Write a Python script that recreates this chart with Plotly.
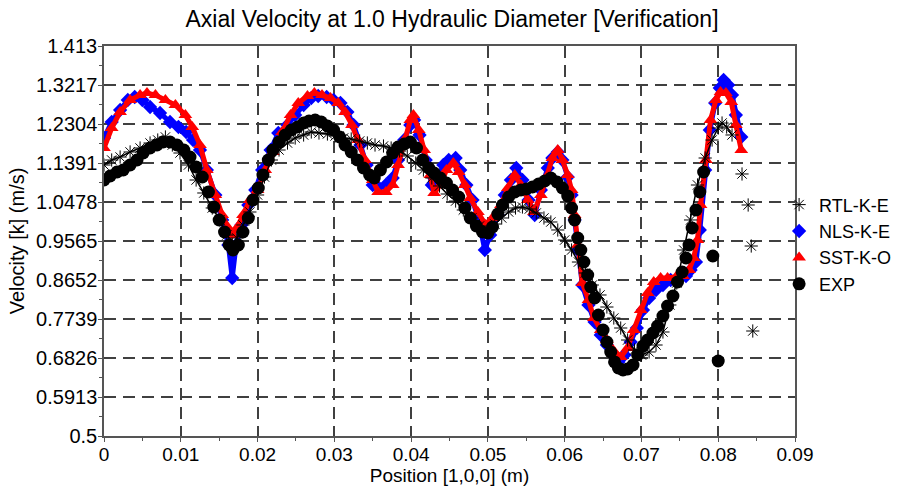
import plotly.graph_objects as go

# ---------------- data ----------------
rtl_x = [0.0000, 0.0010, 0.0021, 0.0034, 0.0047, 0.0060, 0.0070, 0.0080, 0.0089, 0.0099,
         0.0110, 0.0120, 0.0130, 0.0141, 0.0151, 0.0160, 0.0167, 0.0173, 0.0181, 0.0190,
         0.0200, 0.0209, 0.0218, 0.0228, 0.0239, 0.0249, 0.0260, 0.0270, 0.0280, 0.0291,
         0.0301, 0.0312, 0.0322, 0.0333, 0.0343, 0.0353, 0.0364, 0.0374, 0.0385, 0.0395,
         0.0406, 0.0416, 0.0427, 0.0437, 0.0447, 0.0458, 0.0468, 0.0479, 0.0489, 0.0500,
         0.0509, 0.0518, 0.0527, 0.0536, 0.0545, 0.0554, 0.0563, 0.0573, 0.0582, 0.0591,
         0.0600, 0.0609, 0.0618, 0.0627, 0.0636, 0.0646, 0.0655, 0.0664, 0.0673, 0.0682,
         0.0691, 0.0700, 0.0710, 0.0719, 0.0728, 0.0737, 0.0746, 0.0755, 0.0764, 0.0773,
         0.0783, 0.0792, 0.0800, 0.0805, 0.0811, 0.0818,
         0.0831, 0.0839, 0.0843, 0.0845]
rtl_y = [1.1344, 1.1461, 1.1531, 1.1649, 1.1742, 1.1859, 1.1929, 1.2000, 1.1812, 1.1625,
         1.1344, 1.0993, 1.0689, 1.0338, 1.0057, 0.9705, 0.9471, 0.9635, 0.9940, 1.0244,
         1.0642, 1.1063, 1.1461, 1.1695, 1.1859, 1.1976, 1.2047, 1.2117, 1.2093, 1.2070,
         1.2023, 1.1976, 1.1953, 1.1906, 1.1859, 1.1812, 1.1789, 1.1742, 1.1672, 1.1555,
         1.1391, 1.1227, 1.1040, 1.0853, 1.0665, 1.0501, 1.0291, 1.0104, 0.9916, 0.9823,
         0.9963, 1.0104, 1.0244, 1.0338, 1.0361, 1.0314, 1.0221, 1.0104, 1.0010, 0.9823,
         0.9588, 0.9354, 0.9073, 0.8816, 0.8535, 0.8301, 0.8020, 0.7762, 0.7528, 0.7247,
         0.7013, 0.6897, 0.6967, 0.7130, 0.7435, 0.8067, 0.8582, 0.9354, 1.0057, 1.0876,
         1.1508, 1.1929, 1.2210, 1.2327, 1.2234, 1.2047,
         1.1134, 1.0408, 0.9448, 0.7458]
rtl_tail = 4  # last points are isolated (not part of the continuous band)

nls_x = [0.0000, 0.0010, 0.0021, 0.0031, 0.0040, 0.0050, 0.0060, 0.0073, 0.0086, 0.0097,
         0.0107, 0.0116, 0.0125, 0.0134, 0.0145, 0.0154, 0.0162, 0.0167, 0.0172, 0.0179,
         0.0188, 0.0197, 0.0206, 0.0217, 0.0227, 0.0239, 0.0249, 0.0260, 0.0270, 0.0279,
         0.0290, 0.0299, 0.0308, 0.0317, 0.0325, 0.0334, 0.0342, 0.0350, 0.0357, 0.0367,
         0.0376, 0.0383, 0.0391, 0.0399, 0.0404, 0.0411, 0.0419, 0.0427, 0.0434, 0.0442,
         0.0449, 0.0458, 0.0464, 0.0472, 0.0480, 0.0488, 0.0496, 0.0503, 0.0513, 0.0522,
         0.0530, 0.0537, 0.0545, 0.0553, 0.0561, 0.0569, 0.0578, 0.0584, 0.0591, 0.0597,
         0.0604, 0.0609, 0.0613, 0.0617, 0.0623, 0.0631, 0.0639, 0.0647, 0.0655, 0.0663,
         0.0670, 0.0678, 0.0686, 0.0694, 0.0702, 0.0710, 0.0719, 0.0728, 0.0738, 0.0749,
         0.0758, 0.0764, 0.0771, 0.0776, 0.0783, 0.0789, 0.0796, 0.0802, 0.0807, 0.0813,
         0.0818, 0.0823, 0.0830]
nls_y = [1.1976, 1.2351, 1.2632, 1.2866, 1.2936, 1.2866, 1.2702, 1.2561, 1.2351, 1.2234,
         1.2117, 1.1929, 1.1695, 1.1227, 1.0642, 1.0057, 0.9471, 0.8699, 0.9471, 0.9940,
         1.0408, 1.0759, 1.1227, 1.1695, 1.2093, 1.2281, 1.2515, 1.2749, 1.2913, 1.2959,
         1.2936, 1.2866, 1.2796, 1.2585, 1.2281, 1.1812, 1.1344, 1.0876, 1.0829, 1.0876,
         1.1040, 1.1461, 1.1929, 1.2281, 1.2398, 1.2047, 1.1461, 1.0876, 1.0993, 1.1344,
         1.1461, 1.1508, 1.1227, 1.0876, 1.0525, 1.0057, 0.9354, 0.9705, 1.0174, 1.0642,
         1.0993, 1.1274, 1.0993, 1.0525, 1.0174, 1.0759, 1.1274, 1.1508, 1.1649, 1.1461,
         1.1063, 1.0642, 1.0057, 0.9354, 0.8535, 0.8067, 0.7669, 0.7364, 0.7130, 0.6897,
         0.6733, 0.6897, 0.7200, 0.7528, 0.7950, 0.8231, 0.8418, 0.8535, 0.8652, 0.8722,
         0.8746, 0.8886, 0.9073, 0.9823, 1.1227, 1.2164, 1.2796, 1.3147, 1.3334, 1.3217,
         1.2983, 1.2515, 1.2000]

sst_x = [0.0000, 0.0010, 0.0021, 0.0034, 0.0047, 0.0056, 0.0067, 0.0080, 0.0093, 0.0106,
         0.0115, 0.0125, 0.0134, 0.0145, 0.0154, 0.0162, 0.0167, 0.0173, 0.0181, 0.0190,
         0.0200, 0.0210, 0.0220, 0.0232, 0.0243, 0.0253, 0.0265, 0.0274, 0.0284, 0.0295,
         0.0305, 0.0314, 0.0323, 0.0331, 0.0340, 0.0350, 0.0357, 0.0367, 0.0376, 0.0383,
         0.0391, 0.0399, 0.0403, 0.0410, 0.0417, 0.0425, 0.0430, 0.0438, 0.0446, 0.0455,
         0.0462, 0.0470, 0.0477, 0.0487, 0.0497, 0.0506, 0.0517, 0.0526, 0.0535, 0.0543,
         0.0552, 0.0560, 0.0569, 0.0578, 0.0584, 0.0591, 0.0597, 0.0604, 0.0609, 0.0613,
         0.0617, 0.0623, 0.0631, 0.0638, 0.0647, 0.0655, 0.0663, 0.0673, 0.0682, 0.0690,
         0.0699, 0.0708, 0.0716, 0.0725, 0.0734, 0.0745, 0.0754, 0.0762, 0.0768, 0.0773,
         0.0777, 0.0784, 0.0790, 0.0797, 0.0803, 0.0810, 0.0817, 0.0823, 0.0830]
sst_y = [1.1742, 1.2210, 1.2585, 1.2866, 1.2983, 1.3030, 1.2983, 1.2866, 1.2749, 1.2515,
         1.2234, 1.1812, 1.1227, 1.0642, 1.0174, 0.9869, 0.9705, 0.9869, 1.0174, 1.0525,
         1.0759, 1.1227, 1.1649, 1.2117, 1.2515, 1.2796, 1.2959, 1.3030, 1.2983, 1.2913,
         1.2796, 1.2585, 1.2281, 1.1929, 1.1461, 1.0993, 1.0712, 1.0712, 1.0876, 1.1344,
         1.1929, 1.2398, 1.2515, 1.2164, 1.1695, 1.1110, 1.0689, 1.0876, 1.1227, 1.1391,
         1.1180, 1.0876, 1.0572, 1.0244, 0.9940, 1.0104, 1.0408, 1.0806, 1.1110, 1.0876,
         1.0525, 1.0244, 1.0642, 1.1110, 1.1508, 1.1695, 1.1461, 1.1110, 1.0759, 1.0174,
         0.9471, 0.8582, 0.8184, 0.7762, 0.7482, 0.7247, 0.7013, 0.6850, 0.7060, 0.7482,
         0.7950, 0.8348, 0.8605, 0.8699, 0.8699, 0.8722, 0.8746, 0.8886, 0.9167, 0.9588,
         1.0408, 1.1461, 1.2398, 1.2866, 1.3053, 1.3030, 1.2819, 1.2281, 1.1695]

exp_x = [0.0000, 0.0008, 0.0017, 0.0025, 0.0034, 0.0043, 0.0051, 0.0060, 0.0069, 0.0077,
         0.0086, 0.0095, 0.0104, 0.0112, 0.0120, 0.0128, 0.0136, 0.0143, 0.0150, 0.0157,
         0.0163, 0.0168, 0.0175, 0.0181, 0.0188, 0.0194, 0.0201, 0.0207, 0.0214, 0.0220,
         0.0228, 0.0236, 0.0244, 0.0252, 0.0260, 0.0267, 0.0275, 0.0283, 0.0291, 0.0299,
         0.0307, 0.0314, 0.0322, 0.0330, 0.0338, 0.0346, 0.0352, 0.0360, 0.0368, 0.0376,
         0.0383, 0.0391, 0.0399, 0.0407, 0.0415, 0.0423, 0.0430, 0.0438, 0.0446, 0.0454,
         0.0462, 0.0470, 0.0477, 0.0485, 0.0493, 0.0500, 0.0506, 0.0513, 0.0519, 0.0527,
         0.0535, 0.0543, 0.0550, 0.0558, 0.0566, 0.0574, 0.0582, 0.0590, 0.0597, 0.0604,
         0.0609, 0.0613, 0.0617, 0.0621, 0.0625, 0.0630, 0.0634, 0.0639, 0.0644, 0.0650,
         0.0655, 0.0660, 0.0665, 0.0670, 0.0676, 0.0682, 0.0689, 0.0695, 0.0702, 0.0708,
         0.0715, 0.0721, 0.0728, 0.0734, 0.0741, 0.0747, 0.0753, 0.0758, 0.0762, 0.0766,
         0.0771, 0.0776, 0.0781, 0.0793, 0.0800]
exp_y = [1.0993, 1.1087, 1.1180, 1.1227, 1.1344, 1.1461, 1.1625, 1.1742, 1.1812, 1.1883,
         1.1883, 1.1812, 1.1695, 1.1531, 1.1297, 1.1063, 1.0712, 1.0361, 1.0057, 0.9776,
         0.9471, 0.9354, 0.9471, 0.9776, 1.0104, 1.0525, 1.0806, 1.1110, 1.1461, 1.1695,
         1.1883, 1.2047, 1.2164, 1.2234, 1.2327, 1.2374, 1.2398, 1.2351, 1.2257, 1.2164,
         1.2000, 1.1812, 1.1649, 1.1461, 1.1274, 1.1110, 1.1040, 1.1227, 1.1414, 1.1625,
         1.1766, 1.1836, 1.1883, 1.1742, 1.1461, 1.1274, 1.1157, 1.1040, 1.0923, 1.0759,
         1.0595, 1.0338, 1.0104, 0.9916, 0.9776, 0.9752, 0.9893, 1.0197, 1.0408, 1.0595,
         1.0712, 1.0759, 1.0782, 1.0829, 1.0899, 1.0970, 1.1040, 1.0946, 1.0806, 1.0618,
         1.0338, 1.0057, 0.9635, 0.9354, 0.9073, 0.8769, 0.8488, 0.8231, 0.7833, 0.7482,
         0.7200, 0.6967, 0.6733, 0.6592, 0.6545, 0.6569, 0.6662, 0.6897, 0.7107, 0.7247,
         0.7411, 0.7575, 0.7809, 0.8043, 0.8278, 0.8605, 0.8839, 0.9167, 0.9471, 0.9869,
         1.0291, 1.0712, 1.1180, 0.9214, 0.6756]

y_tickvals = [1.413, 1.3217, 1.2304, 1.1391, 1.0478, 0.9565, 0.8652, 0.7739, 0.6826, 0.5913, 0.5]
y_ticktext = ["1.413", "1.3217", "1.2304", "1.1391", "1.0478", "0.9565", "0.8652",
              "0.7739", "0.6826", "0.5913", "0.5"]
x_tickvals = [0, 0.01, 0.02, 0.03, 0.04, 0.05, 0.06, 0.07, 0.08, 0.09]
x_ticktext = ["0", "0.01", "0.02", "0.03", "0.04", "0.05", "0.06", "0.07", "0.08", "0.09"]

FONT = "Liberation Sans, Arial, sans-serif"
BLUE = "#0000ff"
RED = "#ff0000"

fig = go.Figure()

# connecting bands (drawn behind markers, not in legend)
fig.add_trace(go.Scatter(x=nls_x, y=nls_y, mode="lines", line=dict(color=BLUE, width=5),
                         showlegend=False, hoverinfo="skip"))
fig.add_trace(go.Scatter(x=nls_x, y=nls_y, mode="markers", name="NLS-K-E", legendrank=2,
                         marker=dict(symbol="diamond", size=11, color=BLUE)))
fig.add_trace(go.Scatter(x=sst_x, y=sst_y, mode="lines", line=dict(color=RED, width=5),
                         showlegend=False, hoverinfo="skip"))
fig.add_trace(go.Scatter(x=sst_x, y=sst_y, mode="markers", name="SST-K-O", legendrank=3,
                         marker=dict(symbol="triangle-up", size=12, color=RED)))
fig.add_trace(go.Scatter(x=rtl_x[:-rtl_tail], y=rtl_y[:-rtl_tail], mode="lines",
                         line=dict(color="black", width=1.5),
                         showlegend=False, hoverinfo="skip"))
fig.add_trace(go.Scatter(x=rtl_x, y=rtl_y, mode="markers", name="RTL-K-E", legendrank=1,
                         marker=dict(symbol="asterisk-open", size=11, color="black",
                                     line=dict(color="black", width=1))))
fig.add_trace(go.Scatter(x=exp_x, y=exp_y, mode="markers", name="EXP", legendrank=4,
                         marker=dict(symbol="circle", size=13, color="black")))

axis_common = dict(
    showline=True, linecolor="#555555", linewidth=1.5, mirror=True,
    showgrid=True, gridcolor="#404040", gridwidth=1.5, griddash="12px,7px",
    zeroline=False, ticks="outside", ticklen=4, tickcolor="#555555", tickwidth=1,
)

fig.update_xaxes(
    range=[0, 0.09], tickmode="array", tickvals=x_tickvals, ticktext=x_ticktext,
    tickfont=dict(family=FONT, size=19, color="black"), ticklabelstandoff=-4,
    title=dict(text="Position [1,0,0] (m)", font=dict(family=FONT, size=19, color="black"),
               standoff=3),
    minor=dict(ticks="outside", ticklen=3, tickcolor="#555555", dtick=0.005, tick0=0,
               showgrid=False),
    **axis_common,
)
fig.update_yaxes(
    range=[0.5, 1.413], tickmode="array", tickvals=y_tickvals, ticktext=y_ticktext,
    tickfont=dict(family=FONT, size=20, color="black"), ticklabelstandoff=-3,
    title=dict(text="Velocity [k] (m/s)", font=dict(family=FONT, size=20, color="black"),
               standoff=6),
    minor=dict(ticks="outside", ticklen=3, tickcolor="#555555",
               tickvals=[v - 0.04565 for v in y_tickvals[:-1]], showgrid=False),
    **axis_common,
)

fig.update_layout(
    width=904, height=488,
    margin=dict(l=104, r=109, t=46, b=52, autoexpand=False),
    paper_bgcolor="white", plot_bgcolor="white",
    title=dict(text="Axial Velocity at 1.0 Hydraulic Diameter [Verification]",
               x=0.5, xanchor="center", y=0.962, yanchor="middle",
               font=dict(family=FONT, size=23, color="black")),
    font=dict(family=FONT, color="black"),
    legend=dict(x=0.977, xanchor="left", y=0.64, yanchor="top",
                font=dict(family=FONT, size=18, color="black"),
                bgcolor="rgba(0,0,0,0)", borderwidth=0, itemwidth=30,
                tracegroupgap=0),
    showlegend=True,
)

fig.write_html("out.html")
